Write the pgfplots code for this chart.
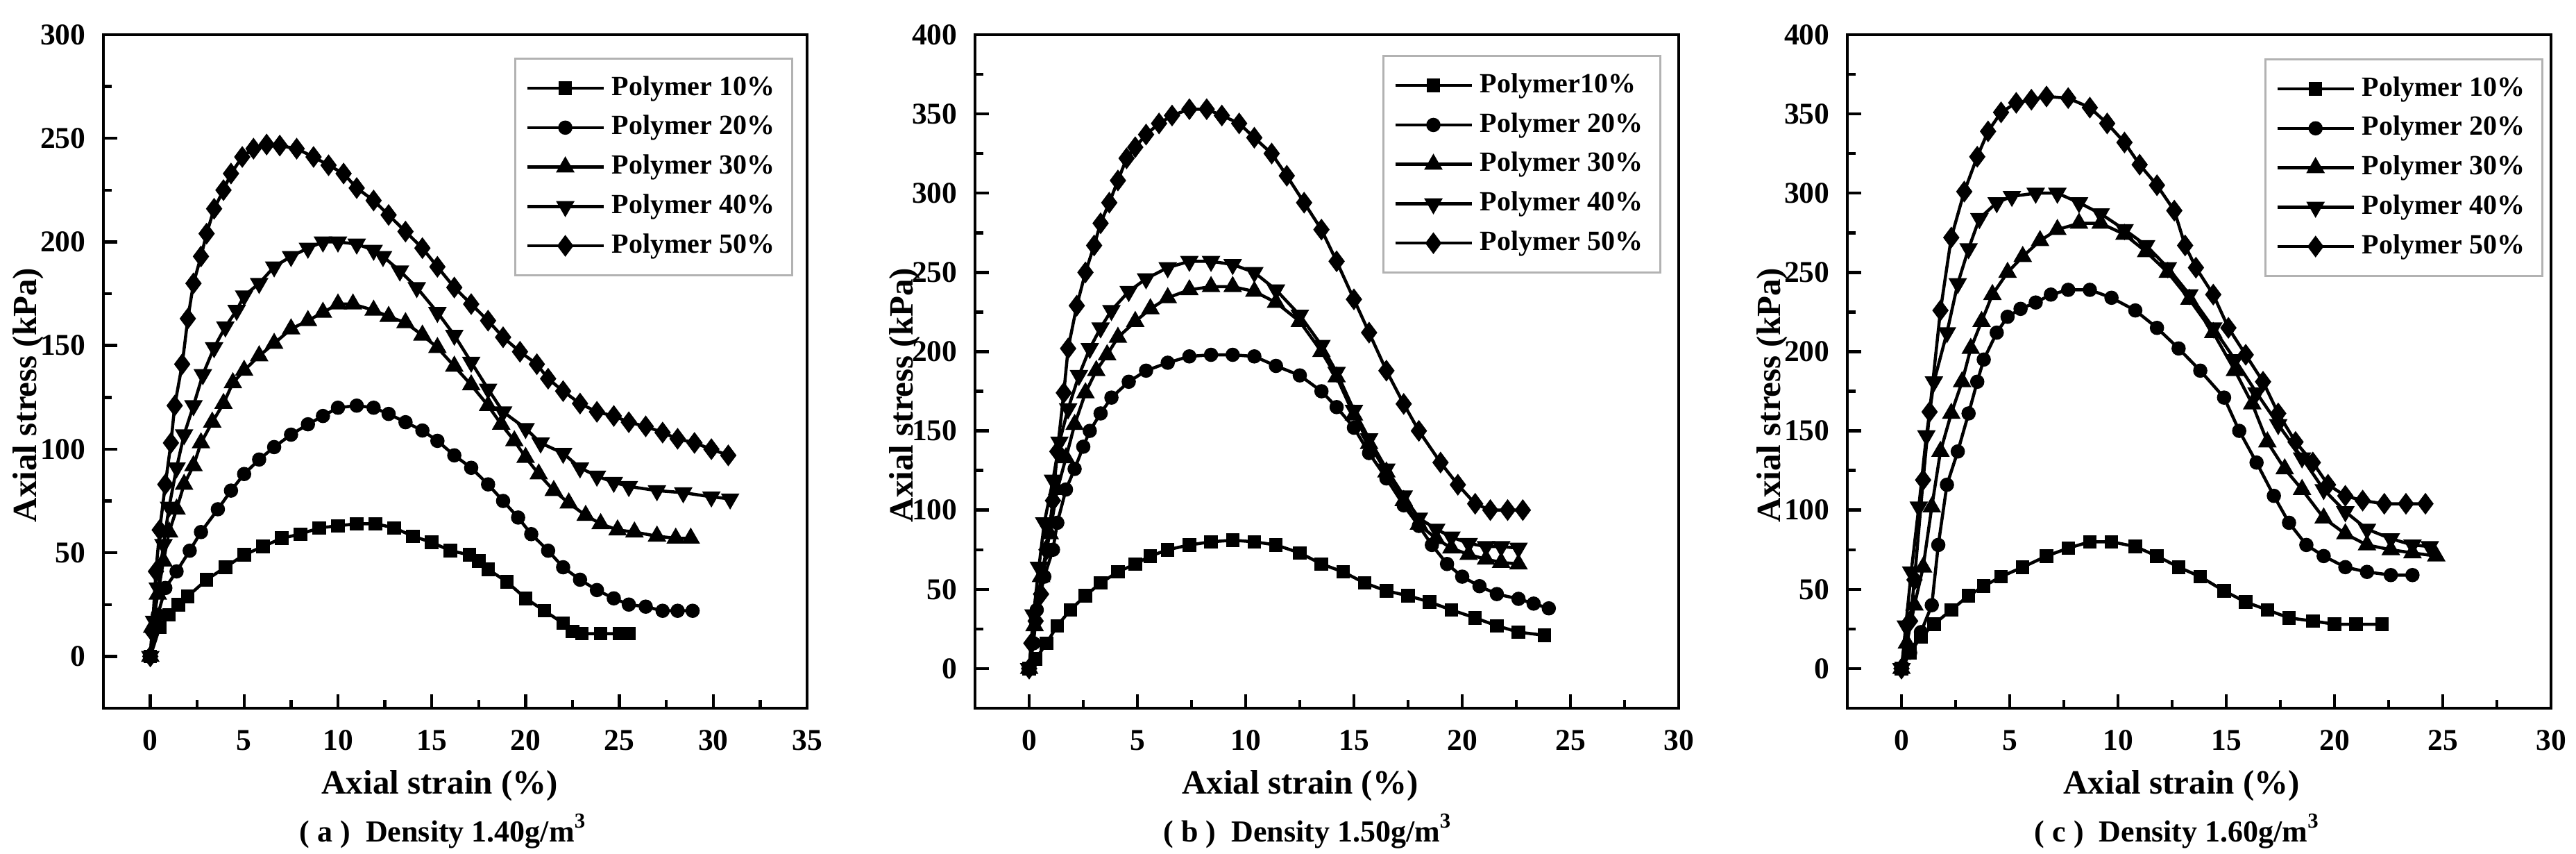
\documentclass[border=0pt]{standalone}
\usepackage{pgfplots}
\pgfplotsset{compat=1.18}
\usepackage{fontspec}
\setmainfont{Liberation Serif}

\pgfplotsset{
  panel/.style={
    width=202.8pt, height=194pt, scale only axis,
    anchor=south west,
    xmin=-2.5, ymin=-25,
    axis line style={line width=0.9pt},
    tick style={black, line width=0.9pt},
    major tick length=4pt, minor tick length=2.4pt,
    tick align=inside,
    xtick pos=left, ytick pos=left,
    minor x tick num=1, minor y tick num=1,
    scaled ticks=false,
    /pgf/number format/assume math mode=true,
    xticklabel={\pgfmathprintnumber[assume math mode=true]{\tick}},
    yticklabel={\pgfmathprintnumber[assume math mode=true]{\tick}},
    ticklabel style={font=\bfseries\fontsize{8.7}{10}\selectfont},
    xticklabel style={yshift=-2.8pt},
    yticklabel style={xshift=-1.6pt},
    label style={font=\bfseries\fontsize{9.8}{11}\selectfont},
    xlabel={Axial strain (\%)},
    ylabel={Axial stress (kPa)},
    legend cell align=left,
    legend style={draw=gray!60, line width=0.6pt, font=\bfseries\fontsize{8}{9}\selectfont,
      row sep=0.3pt, inner xsep=3pt, inner ysep=3pt, anchor=north east},
    legend image code/.code={\draw[mark repeat=2,mark phase=2,##1] plot coordinates {(0pt,0pt) (11pt,0pt) (22pt,0pt)};},
    cycle list={
      {black, line width=0.9pt, mark=square*, mark size=1.5pt, mark options={solid, fill=black}},
      {black, line width=0.9pt, mark=*, mark size=1.6pt, mark options={solid, fill=black}},
      {black, line width=0.9pt, mark=triangle*, mark size=2.2pt, mark options={solid, fill=black}},
      {black, line width=0.9pt, mark=triangle*, mark size=2.2pt, mark options={solid, fill=black, rotate=180}},
      {black, line width=0.9pt, mark=diamond*, mark size=2.4pt, mark options={solid, fill=black}}
    },
  }
}

\begin{document}
\begin{tikzpicture}
\useasboundingbox (0,0) rectangle (742.4pt,246pt);

% ---------------- (a) ----------------
\begin{axis}[panel, at={(29.8pt,42pt)}, xmax=35, ymax=300,
  xtick={0,5,...,35}, ytick={0,50,...,300},
  xlabel style={at={(axis description cs:0.478,-0.127)}, anchor=base},
  ylabel style={at={(axis description cs:-0.107,0.465)}, anchor=center},
  legend style={at={(axis description cs:0.980,0.966)}},
  extra description/.code={\node[font=\bfseries\fontsize{8.8}{10}\selectfont, anchor=base] at (0.483,-0.198) {( a )\hspace{0.5em}Density 1.40g/m\textsuperscript{3}};}]
\addplot coordinates {(0,0) (0.5,14) (1,20) (1.5,25) (2,29) (3,37) (4,43) (5,49) (6,53) (7,57) (8,59) (9,62) (10,63) (11,64) (12,64) (13,62) (14,58) (15,55) (16,51) (17,49) (17.5,46) (18,42) (19,36) (20,28) (21,22) (22,16) (22.5,12) (23,11) (24,11) (25,11) (25.5,11)};
\addplot coordinates {(0,0) (0.4,20) (0.8,33) (1.4,41) (2.1,51) (2.7,60) (3.6,71) (4.3,80) (5,88) (5.8,95) (6.6,101) (7.5,107) (8.4,112) (9.2,116) (10,120) (11,121) (11.9,120) (12.7,117) (13.6,113) (14.5,109) (15.3,104) (16.2,97) (17.1,91) (18,83) (18.8,75) (19.6,67) (20.3,59) (21.2,51) (22,43) (22.9,37) (23.8,32) (24.7,28) (25.5,25) (26.4,24) (27.3,22) (28.1,22) (28.9,22)};
\addplot coordinates {(0,0) (0.1,14) (0.4,30) (0.7,46) (1,60) (1.4,71) (1.8,83) (2.3,92) (2.7,103) (3.3,113) (3.9,122) (4.4,132) (5,138) (5.8,145) (6.6,151) (7.5,158) (8.4,162) (9.2,166) (10,170) (10.8,170) (11.9,167) (12.7,164) (13.6,161) (14.5,155) (15.3,149) (16.2,140) (17.1,131) (18,121) (18.7,112) (19.4,104) (20,96) (20.7,88) (21.5,80) (22.3,74) (23.2,68) (24,64) (24.9,61) (25.8,60) (27,58) (28,57) (28.8,57)};
\addplot coordinates {(0,0) (0.2,17) (0.4,33) (0.7,54) (1,72) (1.4,91) (1.8,107) (2.3,121) (2.8,136) (3.4,149) (4,159) (4.6,167) (5,174) (5.8,180) (6.6,188) (7.5,193) (8.4,197) (9.2,200) (10,200) (11,199) (11.9,196) (12.4,193) (13.3,186) (14.2,178) (15.3,166) (16.2,155) (17.1,142) (18,129) (18.8,118) (20,110) (20.8,103) (22,98) (22.9,91) (23.8,87) (24.7,84) (25.5,82) (27,80) (28.4,79) (29.9,77) (30.9,76)};
\addplot coordinates {(0,0) (0.1,12) (0.3,41) (0.5,61) (0.8,83) (1.1,103) (1.3,121) (1.7,141) (2,163) (2.3,180) (2.7,193) (3,204) (3.4,216) (3.9,225) (4.3,233) (4.9,241) (5.5,245) (6.2,247) (6.9,246.5) (7.8,245) (8.7,241) (9.5,237) (10.3,233) (11,226) (11.9,220) (12.7,213) (13.6,205) (14.5,197) (15.3,188) (16.2,178) (17.1,170) (18,162) (18.8,154) (19.7,147) (20.6,141) (21.2,134) (22,128) (22.9,122) (23.8,118) (24.7,116) (25.5,113) (26.4,111) (27.3,108) (28.1,105) (29,103) (29.9,100) (30.8,97)};
\legend{Polymer 10\%, Polymer 20\%, Polymer 30\%, Polymer 40\%, Polymer 50\%}
\end{axis}

% ---------------- (b) ----------------
\begin{axis}[panel, at={(281pt,42pt)}, xmax=30, ymax=400,
  xtick={0,5,...,30}, ytick={0,50,...,400},
  xlabel style={at={(axis description cs:0.462,-0.127)}, anchor=base},
  ylabel style={at={(axis description cs:-0.100,0.465)}, anchor=center},
  legend style={at={(axis description cs:0.975,0.970)}},
  extra description/.code={\node[font=\bfseries\fontsize{8.8}{10}\selectfont, anchor=base] at (0.473,-0.198) {( b )\hspace{0.5em}Density 1.50g/m\textsuperscript{3}};}]
\addplot coordinates {(0,0) (0.3,6) (0.8,16) (1.3,27) (1.9,37) (2.6,46) (3.3,54) (4.1,61) (4.9,66) (5.6,71) (6.4,75) (7.4,78) (8.4,80) (9.4,81) (10.4,80) (11.4,78) (12.5,73) (13.5,66) (14.5,61) (15.5,54) (16.5,49) (17.5,46) (18.5,42) (19.5,37) (20.6,32) (21.6,27) (22.6,23) (23.8,21)};
\addplot coordinates {(0,0) (0.2,16) (0.35,37) (0.7,58) (1.1,75) (1.3,92) (1.7,113) (2.1,126) (2.5,140) (2.8,150) (3.3,161) (3.8,171) (4.6,181) (5.4,188) (6.4,193) (7.4,197) (8.4,198) (9.4,198) (10.4,197) (11.4,191) (12.5,185) (13.5,175) (14.2,165) (15,152) (15.7,136) (16.5,120) (17.3,103) (18,90) (18.6,78) (19.3,66) (20,58) (20.8,52) (21.6,47) (22.6,44) (23.3,41) (24,38)};
\addplot coordinates {(0,0) (0.25,27) (0.55,58) (0.95,85) (1.3,113) (1.7,133) (2.1,154) (2.6,174) (3.1,188) (3.6,198) (4.1,209) (4.9,219) (5.6,227) (6.4,234) (7.4,239) (8.4,241) (9.4,241) (10.4,238) (11.4,231) (12.5,219) (13.5,200) (14.2,184) (15,160) (15.7,142) (16.5,124) (17.3,106) (18,91) (18.8,82) (19.5,76) (20.3,72) (21.1,69) (21.8,67) (22.6,66)};
\addplot coordinates {(0,0) (0.2,34) (0.45,64) (0.7,92) (1.1,119) (1.4,143) (1.8,164) (2.3,185) (2.8,202) (3.3,215) (3.8,226) (4.6,238) (5.4,246) (6.4,253) (7.4,257) (8.4,257) (9.4,255) (10.4,250) (11.4,239) (12.5,223) (13.5,204) (14.2,187) (15,163) (15.7,145) (16.5,126) (17.3,109) (18,95) (18.8,88) (19.5,83) (20.3,79) (21.1,77) (21.8,77) (22.6,76)};
\addplot coordinates {(0,0) (0.1,16) (0.3,30) (0.55,47) (0.8,75) (1.1,106) (1.3,137) (1.6,174) (1.8,202) (2.2,229) (2.6,250) (3,267) (3.3,281) (3.7,294) (4.1,308) (4.5,322) (4.9,329) (5.4,337) (6,344) (6.6,349) (7.4,353) (8.2,353) (8.9,349) (9.7,344) (10.4,335) (11.2,325) (11.9,311) (12.7,294) (13.5,277) (14.2,257) (15,233) (15.7,212) (16.5,188) (17.3,167) (18,150) (19,130) (19.8,116) (20.6,104) (21.3,100) (22.1,100) (22.8,100)};
\legend{Polymer10\%, Polymer 20\%, Polymer 30\%, Polymer 40\%, Polymer 50\%}
\end{axis}

% ---------------- (c) ----------------
\begin{axis}[panel, at={(532.4pt,42pt)}, xmax=30, ymax=400,
  xtick={0,5,...,30}, ytick={0,50,...,400},
  xlabel style={at={(axis description cs:0.475,-0.127)}, anchor=base},
  ylabel style={at={(axis description cs:-0.107,0.465)}, anchor=center},
  legend style={at={(axis description cs:0.989,0.965)}},
  extra description/.code={\node[font=\bfseries\fontsize{8.8}{10}\selectfont, anchor=base] at (0.469,-0.198) {( c )\hspace{0.5em}Density 1.60g/m\textsuperscript{3}};}]
\addplot coordinates {(0,0) (0.4,10) (0.9,20) (1.5,28) (2.3,37) (3.1,46) (3.8,52) (4.6,58) (5.6,64) (6.7,71) (7.7,76) (8.7,80) (9.7,80) (10.8,77) (11.8,71) (12.8,64) (13.8,58) (14.9,49) (15.9,42) (16.9,37) (17.9,32) (19,30) (20,28) (21,28) (22.2,28)};
\addplot coordinates {(0,0) (0.4,10) (0.9,23) (1.4,40) (1.7,78) (2.1,116) (2.6,137) (3.1,161) (3.5,181) (3.8,195) (4.4,212) (4.9,222) (5.5,227) (6.2,231) (6.9,236) (7.7,239) (8.7,239) (9.7,234) (10.8,226) (11.8,215) (12.8,202) (13.8,188) (14.9,171) (15.6,150) (16.4,130) (17.2,109) (17.9,92) (18.7,78) (19.5,71) (20.5,64) (21.5,61) (22.6,59) (23.6,59)};
\addplot coordinates {(0,0) (0.25,16) (0.6,40) (1,64) (1.4,102) (1.8,137) (2.3,161) (2.8,181) (3.2,202) (3.7,219) (4.2,236) (4.9,250) (5.6,260) (6.4,270) (7.2,277) (8.2,281) (9.2,281) (10.3,274) (11.3,263) (12.3,250) (13.3,233) (14.4,212) (15.4,188) (16.2,167) (16.9,143) (17.7,126) (18.5,113) (19.5,95) (20.5,85) (21.5,78) (22.6,75) (23.6,73) (24.7,71)};
\addplot coordinates {(0,0) (0.2,27) (0.45,61) (0.8,102) (1.15,147) (1.5,181) (2.1,212) (2.6,243) (3.1,265) (3.6,284) (4.4,294) (5.1,298) (6.2,300) (7.2,300) (8.2,294) (9.2,287) (10.3,277) (11.3,267) (12.3,253) (13.3,236) (14.4,215) (15.4,195) (16.4,174) (17.4,154) (18.5,133) (19.5,113) (20.5,99) (21.5,88) (22.6,82) (23.6,78) (24.4,77)};
\addplot coordinates {(0,0) (0.4,30) (0.6,56) (1,119) (1.3,162) (1.8,226) (2.3,272) (2.9,301) (3.5,323) (4,339) (4.6,351) (5.3,357) (6,359) (6.7,361) (7.7,360) (8.7,354) (9.5,344) (10.3,332) (11,318) (11.8,305) (12.6,289) (13.1,267) (13.6,253) (14.4,236) (15.1,215) (15.9,198) (16.7,181) (17.4,161) (18.2,143) (19,130) (19.7,116) (20.5,109) (21.3,106) (22.3,104) (23.3,104) (24.2,104)};
\legend{Polymer 10\%, Polymer 20\%, Polymer 30\%, Polymer 40\%, Polymer 50\%}
\end{axis}
\end{tikzpicture}
\end{document}
